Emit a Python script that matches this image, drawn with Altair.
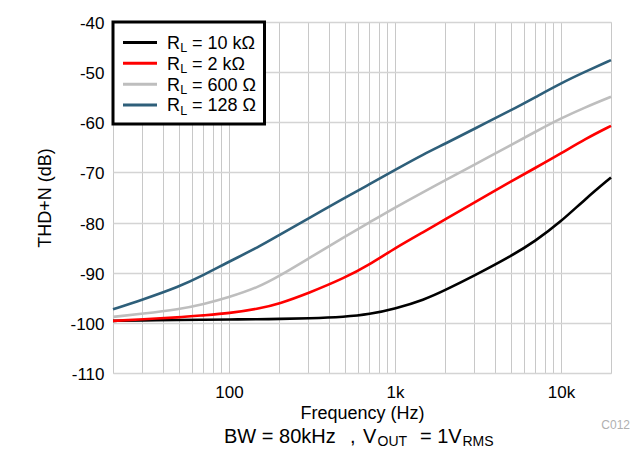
import altair as alt
import pandas as pd

# ---------------- data ----------------
freq = [20, 30, 50, 70, 100, 150, 200, 300, 500, 700, 1000, 1500, 2000,
        3000, 5000, 7000, 10000, 14000, 20000]

thd_10k = [-99.6, -99.5, -99.4, -99.4, -99.3, -99.3, -99.2, -99.1, -98.8, -98.3,
           -97.2, -95.4, -93.5, -90.6, -86.7, -83.7, -79.8, -75.3, -71.0]
thd_2k = [-99.6, -99.3, -98.9, -98.5, -98.1, -97.2, -96.2, -94.1, -91.0, -88.4,
          -85.1, -81.8, -79.4, -76.0, -71.8, -69.1, -66.2, -63.3, -60.7]
thd_600 = [-98.8, -98.2, -97.3, -96.3, -94.9, -92.9, -90.7, -87.2, -82.8, -80.0,
           -77.0, -73.8, -71.6, -68.5, -64.5, -61.9, -59.2, -57.0, -54.9]
thd_128 = [-97.3, -95.4, -92.8, -90.5, -87.8, -84.9, -82.5, -79.2, -75.0, -72.4,
           -69.5, -66.3, -64.3, -61.3, -57.6, -55.0, -52.2, -49.9, -47.6]

series_keys = ["10k", "2k", "600", "128"]
series_vals = [thd_10k, thd_2k, thd_600, thd_128]
legend_rest = ["= 10 k\u03a9", "= 2 k\u03a9", "= 600 \u03a9", "= 128 \u03a9"]
colors = ["#000000", "#ff0000", "#bebebe", "#2e5f7a"]

x_grid_values = [20, 30, 40, 50, 60, 70, 80, 90,
                 100, 200, 300, 400, 500, 600, 700, 800, 900,
                 1000, 2000, 3000, 4000, 5000, 6000, 7000, 8000, 9000,
                 10000, 20000]
y_values = [-110, -100, -90, -80, -70, -60, -50, -40]

rows = []
for key, vals in zip(series_keys, series_vals):
    for f, v in zip(freq, vals):
        rows.append({"freq": f, "thd": v, "series": key})
df = pd.DataFrame(rows)

FONT = "Liberation Sans"

x_enc = alt.X(
    "freq:Q",
    scale=alt.Scale(type="log", domain=[20, 20000]),
    axis=alt.Axis(
        values=x_grid_values,
        labelExpr="datum.value == 100 ? '100' : datum.value == 1000 ? '1k' : datum.value == 10000 ? '10k' : ''",
        labelFontSize=17, labelColor="black", labelFont=FONT,
        labelBaseline="alphabetic", labelPadding=24.5,
        labelOverlap=False, labelFlush=False,
        ticks=False, tickSize=0, domain=False,
        grid=True, gridColor="#c8c8c8", gridWidth=1,
        title="Frequency (Hz)", titleFontSize=18, titleFontWeight="normal",
        titleColor="black", titleFont=FONT,
        titleX=249, titleY=45.5, titleBaseline="alphabetic", titleAlign="center",
    ),
)
y_enc = alt.Y(
    "thd:Q",
    scale=alt.Scale(domain=[-110, -40]),
    axis=alt.Axis(
        values=y_values,
        labelExpr="'-' + abs(datum.value)",
        labelFontSize=17, labelColor="black", labelFont=FONT,
        labelPadding=9, labelBaseline="middle", labelOffset=1.5,
        ticks=False, tickSize=0, domain=False,
        grid=True, gridColor="#d4d4d4", gridWidth=1.5,
        title="THD+N (dB)", titleFontSize=18, titleFontWeight="normal",
        titleColor="black", titleFont=FONT,
        titleX=-68, titleY=175.5, titleAngle=-90,
        titleBaseline="middle", titleAlign="center",
    ),
)

base = alt.Chart(df).encode(x=x_enc, y=y_enc)

layers = []
for key, col in zip(series_keys, colors):
    layers.append(
        base.transform_filter(alt.datum.series == key)
        .mark_line(color=col, strokeWidth=2.6, interpolate="basis")
    )

one = pd.DataFrame({"k": [0]})

# custom legend
layers.append(
    alt.Chart(one).mark_rect(fill="white", stroke="black", strokeWidth=3)
    .encode(x=alt.value(0), x2=alt.value(151.5), y=alt.value(0), y2=alt.value(102))
)
for i, (rest, col) in enumerate(zip(legend_rest, colors)):
    yy = 20.4 + 20.9 * i
    layers.append(
        alt.Chart(one).mark_rule(color=col, strokeWidth=3)
        .encode(x=alt.value(10), x2=alt.value(44), y=alt.value(yy))
    )
    layers.append(
        alt.Chart(one).mark_text(text="R", align="left", baseline="alphabetic",
                                 fontSize=18, font=FONT, color="black")
        .encode(x=alt.value(54), y=alt.value(yy + 6.3))
    )
    layers.append(
        alt.Chart(one).mark_text(text="L", align="left", baseline="alphabetic",
                                 fontSize=12.5, font=FONT, color="black")
        .encode(x=alt.value(67.3), y=alt.value(yy + 9.8))
    )
    layers.append(
        alt.Chart(one).mark_text(text=rest, align="left", baseline="alphabetic",
                                 fontSize=18, font=FONT, color="black")
        .encode(x=alt.value(79), y=alt.value(yy + 6.3))
    )

# bottom caption with subscripts
caption = [
    ("BW = 80kHz", 111, 0, 20),
    (",", 237, 0, 20),
    ("V", 250, 0, 20),
    ("OUT", 264.5, 3, 14),
    ("= 1V", 307, 0, 20),
    ("RMS", 349.5, 3, 14),
]
cap_base = 420.5
for txt, xx, dy, fs in caption:
    layers.append(
        alt.Chart(one).mark_text(text=txt, align="left", baseline="alphabetic",
                                 fontSize=fs, font=FONT, color="black")
        .encode(x=alt.value(xx), y=alt.value(cap_base + dy))
    )

layers.append(
    alt.Chart(one).mark_text(text="C012", align="right", baseline="alphabetic",
                             fontSize=12, font=FONT, color="#b0b0b0")
    .encode(x=alt.value(517), y=alt.value(407))
)

chart = (
    alt.layer(*layers)
    .properties(
        width=498, height=351,
        padding={"left": 105, "top": 14, "right": 20, "bottom": 76},
        autosize=alt.AutoSizeParams(type="none"),
    )
    .configure_view(stroke="black", strokeWidth=3)
    .configure(font=FONT)
)

chart.save("out.html", embed_options={"renderer": "svg", "actions": False})
